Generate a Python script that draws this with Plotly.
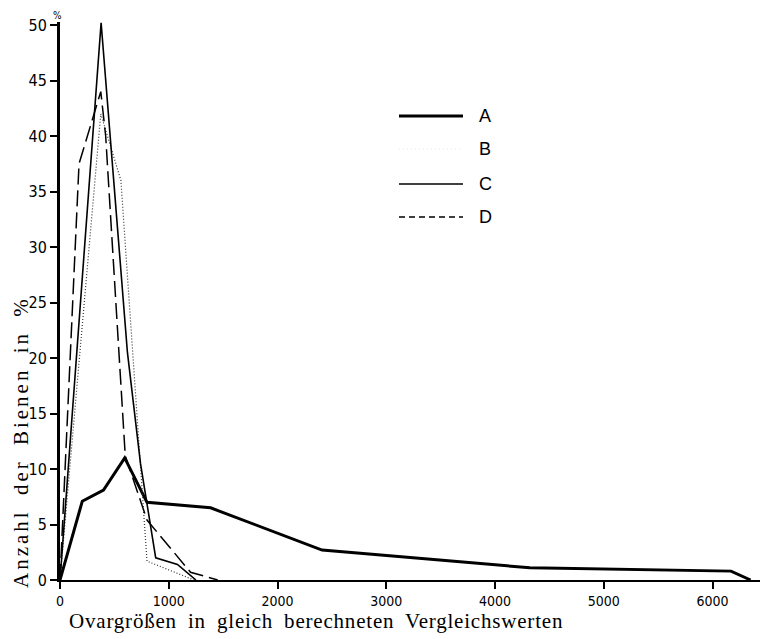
import plotly.graph_objects as go

# ---- data ----
x_ticks = [0, 1000, 2000, 3000, 4000, 5000, 6000]
y_ticks = [0, 5, 10, 15, 20, 25, 30, 35, 40, 45, 50]

series_names = ["A", "B", "C", "D"]

A_x = [0, 205, 400, 595, 800, 1385, 2410, 4320, 6170, 6350]
A_y = [0, 7.1, 8.1, 11.0, 7.0, 6.5, 2.7, 1.1, 0.8, 0]

B_x = [0, 375, 560, 800, 1230]
B_y = [0, 42.0, 36.0, 1.7, 0]

C_x = [0, 378, 620, 740, 880, 1080, 1250]
C_y = [0, 50.2, 20.5, 10.5, 2.0, 1.4, 0]

D_x = [0, 175, 375, 420, 600, 800, 1200, 1450]
D_y = [0, 37.5, 44.0, 40.0, 11.2, 5.4, 0.7, 0]

# ---- figure geometry (page has an 8px body margin) ----
OFF = 8
W, H = 768 - OFF, 639 - OFF
ML, MR, MT, MB = 60 - OFF, 0, 22 - OFF, 639 - 580
PW, PH = W - ML - MR, H - MT - MB
X_MAX = 6510
Y_MAX = 50.27

TICK_FONT = "Liberation Sans Narrow, DejaVu Sans Condensed, Arial Narrow, Liberation Sans, sans-serif"
SERIF = "Liberation Serif, DejaVu Serif, Times New Roman, serif"
SANS = "Liberation Sans, Arial, sans-serif"


def px(xs, ys):
    """screen pixel (reference picture) -> paper coords"""
    xf, yf = xs - OFF, ys - OFF
    return (xf - ML) / PW, (H - MB - yf) / PH


fig = go.Figure()
fig.add_trace(go.Scatter(x=A_x, y=A_y, mode="lines", name="A",
                         line=dict(color="black", width=3)))
fig.add_trace(go.Scatter(x=B_x, y=B_y, mode="lines", name="B",
                         line=dict(color="#333333", width=1.2, dash="1px,2px")))
fig.add_trace(go.Scatter(x=C_x, y=C_y, mode="lines", name="C",
                         line=dict(color="black", width=1.6)))
fig.add_trace(go.Scatter(x=D_x, y=D_y, mode="lines", name="D",
                         line=dict(color="black", width=1.5, dash="16px,6px")))

shapes = []
annotations = []

# manual legend
legend_rows = [
    ("A", 116, dict(color="black", width=3)),
    ("B", 149, dict(color="#e8e8e8", width=1, dash="1px,3px")),
    ("C", 184, dict(color="black", width=1.6)),
    ("D", 217, dict(color="black", width=1.5, dash="6px,4px")),
]
for name, yy, ln in legend_rows:
    x0, y0 = px(399, yy)
    x1, _ = px(463, yy)
    shapes.append(dict(type="line", xref="paper", yref="paper",
                       x0=x0, x1=x1, y0=y0, y1=y0, line=ln))
    lx, ly = px(485, yy)
    annotations.append(dict(text=name, xref="paper", yref="paper", x=lx, y=ly,
                            showarrow=False, xanchor="center", yanchor="middle",
                            font=dict(family=SANS, size=18, color="black")))

# "%" above the y axis
pxx, pyy = px(57, 15.5)
annotations.append(dict(text="%", xref="paper", yref="paper", x=pxx, y=pyy,
                        showarrow=False, xanchor="center", yanchor="middle",
                        font=dict(family=TICK_FONT, size=10, color="black")))

# y-axis title
tx, ty = px(21, 442)
annotations.append(dict(
    text='<span style="letter-spacing:3px;word-spacing:6px">Anzahl der Bienen in %</span>',
    xref="paper", yref="paper", x=tx, y=ty, textangle=-90,
    showarrow=False, xanchor="center", yanchor="middle",
    font=dict(family=SERIF, size=21, color="black")))

# x-axis title
tx, ty = px(316, 621)
annotations.append(dict(
    text='<span style="letter-spacing:0.8px;word-spacing:5px">Ovargrößen in gleich berechneten Vergleichswerten</span>',
    xref="paper", yref="paper", x=tx, y=ty,
    showarrow=False, xanchor="center", yanchor="middle",
    font=dict(family=SERIF, size=21, color="black")))

fig.update_layout(
    width=W, height=H,
    margin=dict(l=ML, r=MR, t=MT, b=MB, pad=0),
    paper_bgcolor="white", plot_bgcolor="white",
    showlegend=False,
    shapes=shapes, annotations=annotations,
    xaxis=dict(range=[0, X_MAX], tickvals=x_ticks, ticktext=[str(v) for v in x_ticks],
               showgrid=False, zeroline=False, showline=True, linecolor="black",
               linewidth=2, ticks="outside", ticklen=7, tickwidth=2, tickcolor="black",
               tickfont=dict(family=TICK_FONT, size=14, color="black")),
    yaxis=dict(range=[0, Y_MAX], tickvals=y_ticks, ticktext=[str(v) for v in y_ticks],
               showgrid=False, zeroline=False, showline=True, linecolor="black",
               linewidth=3, ticks="outside", ticklen=7, tickwidth=2, tickcolor="black",
               tickfont=dict(family=TICK_FONT, size=16, color="black")),
)

fig.write_html("out.html")
